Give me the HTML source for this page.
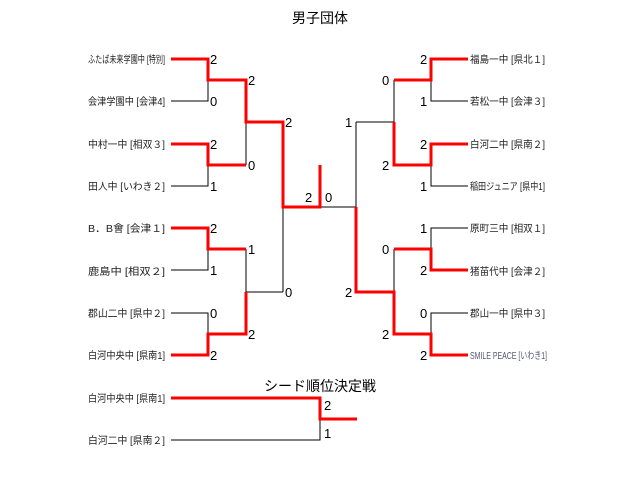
<!DOCTYPE html>
<html><head><meta charset="utf-8"><style>
html,body{margin:0;padding:0;background:#fff;width:640px;height:481px;overflow:hidden}
svg text{font-family:"Liberation Sans","Noto Sans CJK JP",sans-serif}
.t{font-size:10px;fill:#222}
.s{font-size:13px;fill:#000}
</style></head><body>
<svg width="640" height="481" xmlns="http://www.w3.org/2000/svg">
<g fill="none" stroke="#000" stroke-width="1" shape-rendering="crispEdges">
<path d="M171 101H208V80M171 186H208V165M171 270H208V249M171 313H208V334"/>
<path d="M246 122V165M246 249V292H283M283 207V292M320 207H356"/>
<path d="M468 101H431V80M468 186H431V165M468 228H431V249M468 313H431V334"/>
<path d="M394 80V122M394 249V292M356 122H394M356 122V207"/>
<path d="M171 440H320V419"/>
</g>
<g fill="none" stroke="#f00" stroke-width="3" shape-rendering="crispEdges">
<path d="M171 59H208V80H246V122H283V207H320V165"/>
<path d="M171 144H208V165H246"/>
<path d="M171 228H208V249H246"/>
<path d="M171 355H208V334H246V292"/>
<path d="M468 59H431V80H394"/>
<path d="M468 144H431V165H394V122"/>
<path d="M468 270H431V249H394"/>
<path d="M468 355H431V334H394V292H356V207"/>
<path d="M171 398H320V419H357"/>
</g>
<text x="320" y="23" text-anchor="middle" font-size="14">男子団体</text>
<text x="320" y="391" text-anchor="middle" font-size="14">シード順位決定戦</text>
<g class="t">
<text x="88" y="63" textLength="77" lengthAdjust="spacingAndGlyphs">ふたば未来学園中 [特別]</text>
<text x="88" y="105" textLength="77" lengthAdjust="spacingAndGlyphs">会津学園中 [会津4]</text>
<text x="88" y="148" textLength="77" lengthAdjust="spacingAndGlyphs">中村一中 [相双３]</text>
<text x="88" y="190" textLength="77" lengthAdjust="spacingAndGlyphs">田人中 [いわき２]</text>
<text x="88" y="232" textLength="77" lengthAdjust="spacingAndGlyphs">B．B會 [会津１]</text>
<text x="88" y="275" textLength="77" lengthAdjust="spacingAndGlyphs">鹿島中 [相双２]</text>
<text x="88" y="317" textLength="77" lengthAdjust="spacingAndGlyphs">郡山二中 [県中２]</text>
<text x="88" y="359" textLength="77" lengthAdjust="spacingAndGlyphs">白河中央中 [県南1]</text>
<text x="88" y="402" textLength="77" lengthAdjust="spacingAndGlyphs">白河中央中 [県南1]</text>
<text x="88" y="444" textLength="77" lengthAdjust="spacingAndGlyphs">白河二中 [県南２]</text>
<text x="470" y="63" textLength="75" lengthAdjust="spacingAndGlyphs">福島一中 [県北１]</text>
<text x="470" y="105" textLength="75" lengthAdjust="spacingAndGlyphs">若松一中 [会津３]</text>
<text x="470" y="148" textLength="75" lengthAdjust="spacingAndGlyphs">白河二中 [県南２]</text>
<text x="470" y="190" textLength="75" lengthAdjust="spacingAndGlyphs">稲田ジュニア [県中1]</text>
<text x="470" y="232" textLength="75" lengthAdjust="spacingAndGlyphs">原町三中 [相双１]</text>
<text x="470" y="275" textLength="75" lengthAdjust="spacingAndGlyphs">猪苗代中 [会津２]</text>
<text x="470" y="317" textLength="75" lengthAdjust="spacingAndGlyphs">郡山一中 [県中３]</text>
<text x="470" y="359" textLength="77" lengthAdjust="spacingAndGlyphs" style="fill:#557">SMILE PEACE [いわき1]</text>
</g>
<g class="s">
<text x="210" y="64">2</text><text x="210" y="106">0</text>
<text x="210" y="149">2</text><text x="210" y="191">1</text>
<text x="210" y="233">2</text><text x="210" y="275">1</text>
<text x="210" y="318">0</text><text x="210" y="360">2</text>
<text x="248" y="85">2</text><text x="248" y="170">0</text>
<text x="248" y="254">1</text><text x="248" y="339">2</text>
<text x="285" y="127">2</text><text x="285" y="297">0</text>
<text x="305" y="202">2</text><text x="325" y="202">0</text>
<text x="345" y="127">1</text><text x="345" y="297">2</text>
<text x="382" y="85">0</text><text x="382" y="170">2</text>
<text x="382" y="254">0</text><text x="382" y="339">2</text>
<text x="420" y="64">2</text><text x="420" y="106">1</text>
<text x="420" y="149">2</text><text x="420" y="191">1</text>
<text x="420" y="233">1</text><text x="420" y="275">2</text>
<text x="420" y="318">0</text><text x="420" y="360">2</text>
<text x="324" y="410">2</text><text x="324" y="438">1</text>
</g>
</svg>
</body></html>
